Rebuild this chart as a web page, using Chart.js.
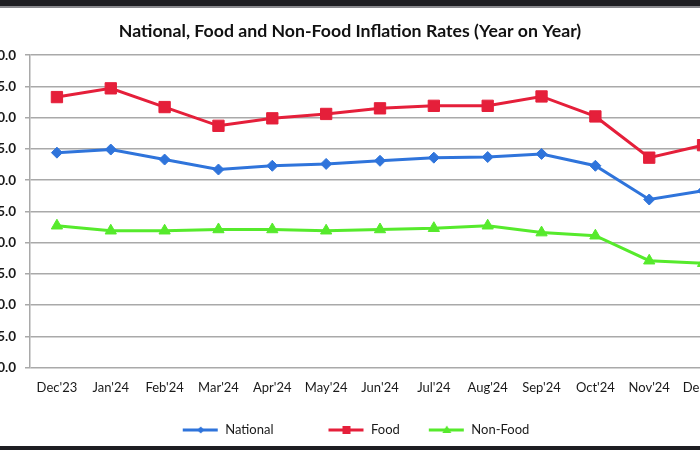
<!DOCTYPE html>
<html>
<head>
<meta charset="utf-8">
<script src="https://cdn.jsdelivr.net/npm/chart.js@4/dist/chart.umd.min.js"></script>
<style>
  html, body { margin: 0; padding: 0; background: #fff; overflow: hidden; }
  body { width: 700px; height: 450px; position: relative; }
  #wrap { position: absolute; left: -40px; top: 0; }
  .band { position: absolute; left: 0; width: 700px; background: #1e1e22; }
</style>
</head>
<body>
<div id="wrap"><canvas id="myChart" width="780" height="450"></canvas></div>
<div class="band" style="top:0;height:6px;border-bottom:2px solid #8a8a8e"></div>
<div class="band" style="top:446px;height:4px"></div>
<script>
"use strict";

const months = ["Dec'23", "Jan'24", "Feb'24", "Mar'24", "Apr'24", "May'24", "Jun'24",
                "Jul'24", "Aug'24", "Sep'24", "Oct'24", "Nov'24", "Dec'24"];
const national = [34.4, 34.9, 33.3, 31.7, 32.3, 32.6, 33.1, 33.6, 33.7, 34.2, 32.3, 26.9, 28.3];
const food     = [43.3, 44.7, 41.7, 38.7, 39.9, 40.6, 41.5, 41.9, 41.9, 43.4, 40.2, 33.6, 35.6];
const nonFood  = [22.7, 21.9, 21.9, 22.1, 22.1, 21.9, 22.1, 22.3, 22.7, 21.6, 21.1, 17.1, 16.7];

const BLUE = '#2f74db';
const RED = '#e51f3a';
const GREEN = '#56ea2c';
const GRID = '#a9a9a9';

// little line+marker icon for the legend (12px blank on the left acts as spacing)
function legendIcon(color, style) {
    const c = document.createElement('canvas');
    c.width = 48; c.height = 14;
    const g = c.getContext('2d');
    const cx = 30, cy = 7;
    g.strokeStyle = color;
    g.fillStyle = color;
    g.lineWidth = 3;
    g.beginPath();
    g.moveTo(12, cy); g.lineTo(47, cy);
    g.stroke();
    g.beginPath();
    if (style === 'rect') {
        g.rect(cx - 4, cy - 4, 8, 8);
    } else if (style === 'rectRot') {
        g.moveTo(cx, cy - 3.5); g.lineTo(cx + 3.5, cy); g.lineTo(cx, cy + 3.5); g.lineTo(cx - 3.5, cy);
        g.closePath();
    } else {
        g.moveTo(cx, cy - 4.5); g.lineTo(cx + 4.5, cy + 3); g.lineTo(cx - 4.5, cy + 3);
        g.closePath();
    }
    g.fill();
    return c;
}

const icons = [legendIcon(BLUE, 'rectRot'), legendIcon(RED, 'rect'), legendIcon(GREEN, 'triangle')];

const ctx = document.getElementById('myChart').getContext('2d');
const chart = new Chart(ctx, {
    type: 'line',
    data: {
        labels: months,
        datasets: [{
                label: 'National',
                data: national,
                borderColor: BLUE,
                backgroundColor: BLUE,
                borderWidth: 3,
                pointStyle: 'rectRot',
                pointRadius: 5.5,
                pointBorderWidth: 1
            },
            {
                label: 'Food',
                data: food,
                borderColor: RED,
                backgroundColor: RED,
                borderWidth: 3,
                pointStyle: 'rect',
                pointRadius: 8,
                pointBorderWidth: 1
            },
            {
                label: 'Non-Food',
                data: nonFood,
                borderColor: GREEN,
                backgroundColor: GREEN,
                borderWidth: 3,
                pointStyle: 'triangle',
                pointRadius: 6.5,
                pointBorderWidth: 1
            }
        ]
    },
    options: {
        responsive: false,
        animation: false,
        layout: { padding: { left: 10, right: 10, top: 0, bottom: 3.5 } },
        scales: {
            x: {
                offset: true,
                grid: { display: false, drawTicks: false },
                border: { display: false },
                ticks: { padding: 13, color: '#1a1a1a', font: { family: 'Lato', size: 13 }, maxRotation: 0, autoSkip: false },
                afterFit: function (scale) { scale.height = 39; }
            },
            y: {
                min: 0,
                max: 50,
                grid: { color: GRID, lineWidth: 1.5, tickLength: 5 },
                border: { color: GRID, width: 1.5 },
                ticks: {
                    stepSize: 5,
                    padding: 9,
                    color: '#1a1a1a',
                    font: { family: 'Lato', size: 13.5, weight: 'bold' },
                    callback: function (v) { return v.toFixed(1); }
                },
                afterFit: function (scale) { scale.width = 60; }
            }
        },
        plugins: {
            title: {
                display: true,
                text: 'National, Food and Non-Food Inflation Rates (Year on Year)',
                color: '#111',
                font: { family: 'Lato', size: 17.7, weight: 'bold' },
                padding: { top: 21, bottom: 13 }
            },
            legend: {
                position: 'bottom',
                labels: {
                    usePointStyle: true,
                    pointStyleWidth: 48,
                    padding: 17,
                    color: '#1a1a1a',
                    font: { family: 'Lato', size: 13 },
                    generateLabels: function (chart) {
                        const items = Chart.defaults.plugins.legend.labels.generateLabels(chart);
                        return items.map(function (it, i) {
                            it.pointStyle = icons[i];
                            if (i === 0) it.text = it.text + '\u2002\u2002\u2002\u2002';
                            return it;
                        });
                    }
                }
            },
            tooltip: { enabled: false }
        }
    }
});
</script>
</body>
</html>
